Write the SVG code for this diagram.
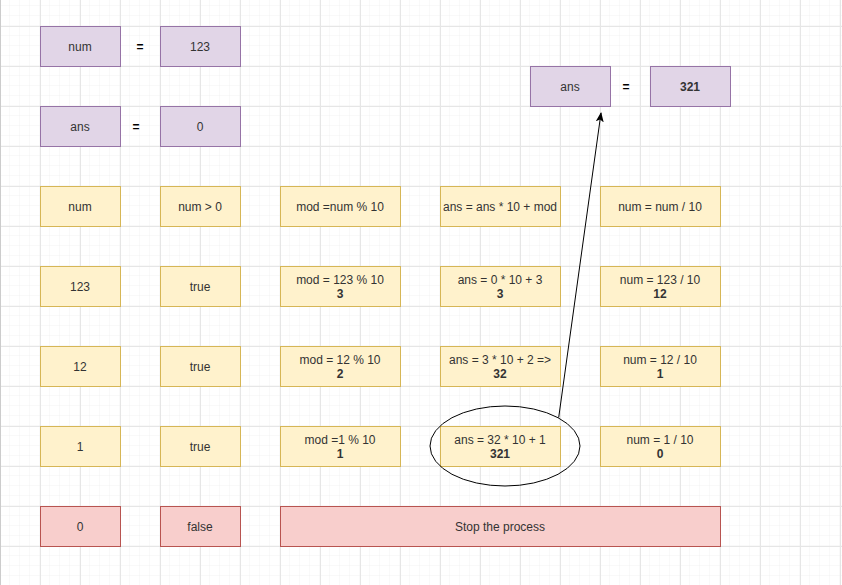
<svg xmlns="http://www.w3.org/2000/svg" width="842" height="585" viewBox="0 0 842 585">
<defs>
<pattern id="minor" x="0" y="6" width="10" height="10" patternUnits="userSpaceOnUse"><path d="M10 0V10M0 10H10" fill="none" stroke="#f2f2f2" stroke-width="1"/></pattern>
<pattern id="major" x="0" y="26" width="40" height="40" patternUnits="userSpaceOnUse"><path d="M0.5 0V40M0 0.5H40" fill="none" stroke="#e6e6e6" stroke-width="1"/></pattern>
<marker id="arr" viewBox="0 0 10 10" refX="9" refY="5" markerWidth="10" markerHeight="10" markerUnits="userSpaceOnUse" orient="auto"><path d="M0 1L10 5L0 9L2.5 5Z" fill="#000"/></marker>
<style>
.p{fill:#e1d5e7;stroke:#9673a6;stroke-width:1}
.y{fill:#fff2cc;stroke:#d6b656;stroke-width:1}
.r{fill:#f8cecc;stroke:#b85450;stroke-width:1}
text{font-family:"Liberation Sans",Arial,sans-serif;font-size:12px;fill:#333;text-anchor:middle}
.b{font-weight:bold}
.eq{font-weight:bold;fill:#000}
</style>
</defs>
<rect width="842" height="585" fill="#fff"/>
<rect width="842" height="585" fill="url(#minor)"/>
<rect width="842" height="585" fill="url(#major)"/>
<line x1="0.5" y1="0" x2="0.5" y2="585" stroke="#ccc"/>
<g id="n_num"><rect class="p" x="40.5" y="26.5" width="80" height="40"/><text x="80" y="51">num</text></g>
<g id="eq1"><text class="eq" x="140" y="51">=</text></g>
<g id="n_123"><rect class="p" x="160.5" y="26.5" width="80" height="40"/><text x="200" y="51">123</text></g>
<g id="n_ans"><rect class="p" x="40.5" y="106.5" width="80" height="40"/><text x="80" y="131">ans</text></g>
<g id="eq2"><text class="eq" x="136" y="131">=</text></g>
<g id="n_0"><rect class="p" x="160.5" y="106.5" width="80" height="40"/><text x="200" y="131">0</text></g>
<g id="n_ans2"><rect class="p" x="530.5" y="66.5" width="80" height="40"/><text x="570" y="91">ans</text></g>
<g id="eq3"><text class="eq" x="626" y="91">=</text></g>
<g id="n_321"><rect class="p" x="650.5" y="66.5" width="80" height="40"/><text class="b" x="690" y="91">321</text></g>

<g id="h_num"><rect class="y" x="40.5" y="186.5" width="80" height="40"/><text x="80" y="211">num</text></g>
<g id="h_cond"><rect class="y" x="160.5" y="186.5" width="80" height="40"/><text x="200" y="211">num &gt; 0</text></g>
<g id="h_mod"><rect class="y" x="280.5" y="186.5" width="120" height="40"/><text x="340" y="211">mod =num % 10</text></g>
<g id="h_ans"><rect class="y" x="440.5" y="186.5" width="120" height="40"/><text x="500" y="211">ans = ans * 10 + mod</text></g>
<g id="h_div"><rect class="y" x="600.5" y="186.5" width="120" height="40"/><text x="660" y="211">num = num / 10</text></g>

<g id="r1_num"><rect class="y" x="40.5" y="266.5" width="80" height="40"/><text x="80" y="291">123</text></g>
<g id="r1_cond"><rect class="y" x="160.5" y="266.5" width="80" height="40"/><text x="200" y="291">true</text></g>
<g id="r1_mod"><rect class="y" x="280.5" y="266.5" width="120" height="40"/><text x="340" y="284">mod = 123 % 10</text><text class="b" x="340" y="298">3</text></g>
<g id="r1_ans"><rect class="y" x="440.5" y="266.5" width="120" height="40"/><text x="500" y="284">ans = 0 * 10 + 3</text><text class="b" x="500" y="298">3</text></g>
<g id="r1_div"><rect class="y" x="600.5" y="266.5" width="120" height="40"/><text x="660" y="284">num = 123 / 10</text><text class="b" x="660" y="298">12</text></g>

<g id="r2_num"><rect class="y" x="40.5" y="346.5" width="80" height="40"/><text x="80" y="371">12</text></g>
<g id="r2_cond"><rect class="y" x="160.5" y="346.5" width="80" height="40"/><text x="200" y="371">true</text></g>
<g id="r2_mod"><rect class="y" x="280.5" y="346.5" width="120" height="40"/><text x="340" y="364">mod = 12 % 10</text><text class="b" x="340" y="378">2</text></g>
<g id="r2_ans"><rect class="y" x="440.5" y="346.5" width="120" height="40"/><text x="500" y="364">ans = 3 * 10 + 2 =&gt;</text><text class="b" x="500" y="378">32</text></g>
<g id="r2_div"><rect class="y" x="600.5" y="346.5" width="120" height="40"/><text x="660" y="364">num = 12 / 10</text><text class="b" x="660" y="378">1</text></g>

<g id="r3_num"><rect class="y" x="40.5" y="426.5" width="80" height="40"/><text x="80" y="451">1</text></g>
<g id="r3_cond"><rect class="y" x="160.5" y="426.5" width="80" height="40"/><text x="200" y="451">true</text></g>
<g id="r3_mod"><rect class="y" x="280.5" y="426.5" width="120" height="40"/><text x="340" y="444">mod =1 % 10</text><text class="b" x="340" y="458">1</text></g>
<g id="r3_ans"><rect class="y" x="440.5" y="426.5" width="120" height="40"/><text x="500" y="444">ans = 32 * 10 + 1</text><text class="b" x="500" y="458">321</text></g>
<g id="r3_div"><rect class="y" x="600.5" y="426.5" width="120" height="40"/><text x="660" y="444">num = 1 / 10</text><text class="b" x="660" y="458">0</text></g>

<g id="r4_num"><rect class="r" x="40.5" y="506.5" width="80" height="40"/><text x="80" y="531">0</text></g>
<g id="r4_cond"><rect class="r" x="160.5" y="506.5" width="80" height="40"/><text x="200" y="531">false</text></g>
<g id="r4_stop"><rect class="r" x="280.5" y="506.5" width="440" height="40"/><text x="500" y="531">Stop the process</text></g>

<g id="highlight"><ellipse cx="505" cy="446" rx="75" ry="40" fill="none" stroke="#000" stroke-width="1"/></g>
<g id="connectors"><line x1="558.7" y1="417.5" x2="601" y2="113" stroke="#000" stroke-width="1" marker-end="url(#arr)"/></g>
</svg>
